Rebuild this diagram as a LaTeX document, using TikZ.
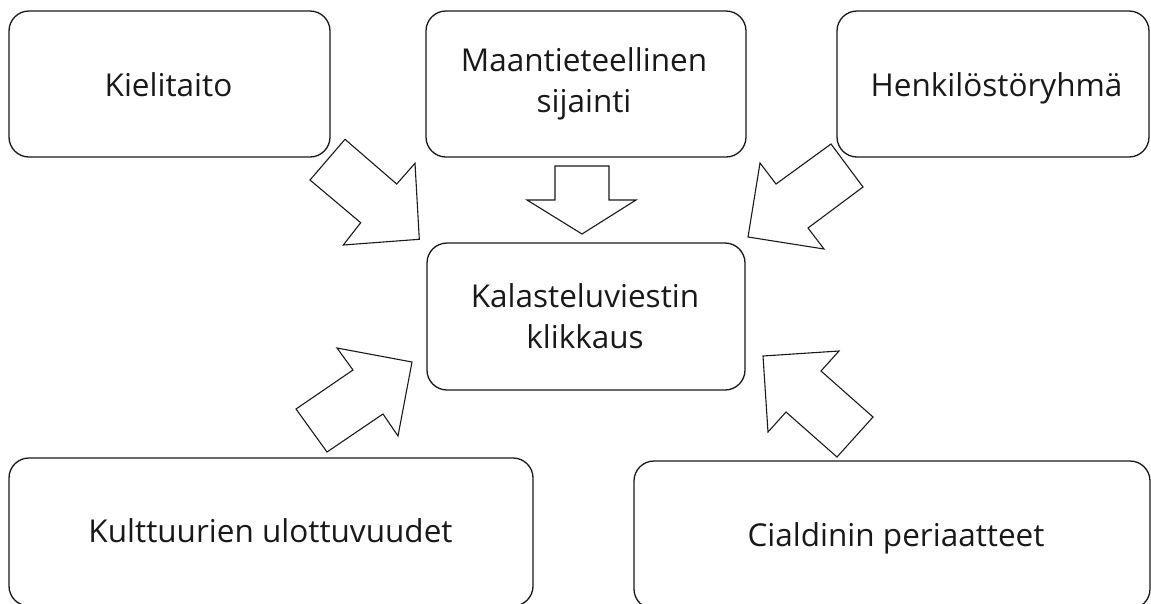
\documentclass[tikz,border=0pt]{standalone}
\usepackage{fontspec}
\setmainfont{Open Sans}
\begin{document}
\begin{tikzpicture}[x=1pt,y=-1pt,
  box/.style={draw=black!90, line width=1.3pt, rounded corners=20pt, inner sep=0pt},
  lbl/.style={anchor=base, inner sep=0pt, font=\fontsize{31.5}{40.5}\selectfont, align=center, text=black!90},
  blockarrow/.style={draw=black!90, line width=1.1pt, fill=white, line join=miter}]
\useasboundingbox (0,0) rectangle (1151,603);
\clip (0,0) rectangle (1151,603);
% boxes
\node[box, minimum width=321pt, minimum height=146pt] (kt) at (169.5,84) {};
\node[box, minimum width=320pt, minimum height=146pt] (ms) at (586,84) {};
\node[box, minimum width=312pt, minimum height=146pt] (hr) at (993,84) {};
\node[box, minimum width=318pt, minimum height=147pt] (kk) at (586,316.5) {};
\node[box, minimum width=524pt, minimum height=148pt] (ku) at (271,532) {};
\node[box, minimum width=516pt, minimum height=148pt] (cp) at (892,535) {};
% texts (base anchor = baseline of the last line)
\node[lbl] (kttxt) at (168.5,96) {Kielitaito};
\node[lbl] (mstxt) at (584,112) {Maantieteellinen\\sijainti};
\node[lbl] (hrtxt) at (996.5,96) {Henkilöstöryhmä};
\node[lbl] (kktxt) at (585,348) {Kalasteluviestin\\klikkaus};
\node[lbl] (kutxt) at (270.5,542) {Kulttuurien ulottuvuudet};
\node[lbl] (cptxt) at (896,546) {Cialdinin periaatteet};
% block arrows
\draw[blockarrow] (310,180) -- (345,139.3) -- (396.7,184) -- (415,163.3) -- (419.3,239.3) -- (343.3,245) -- (360.7,222.7) -- cycle;
\draw[blockarrow] (555,166) -- (609,166) -- (609,200) -- (636,200) -- (582,234) -- (527,200) -- (555,200) -- cycle;
\draw[blockarrow] (831,144) -- (863,187) -- (808,228) -- (824,249) -- (748,237) -- (760,163) -- (776,184) -- cycle;
\draw[blockarrow] (296,409) -- (353,370) -- (337,348) -- (412,362) -- (398,436) -- (383,414) -- (327,452) -- cycle;
\draw[blockarrow] (763,356) -- (839,351) -- (821,371) -- (873,417) -- (837,457) -- (786,412) -- (768,432) -- cycle;
\end{tikzpicture}
\end{document}
